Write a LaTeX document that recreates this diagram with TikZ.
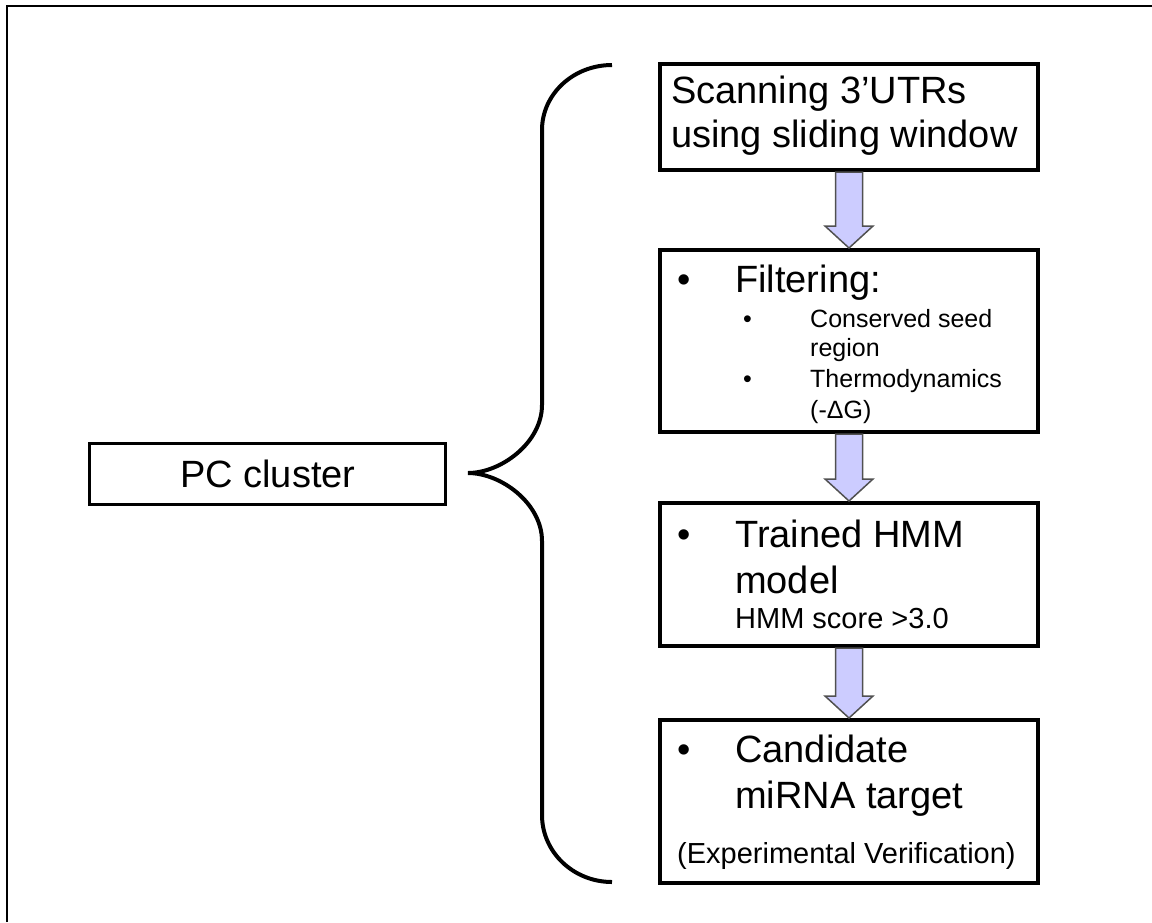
\documentclass[tikz,border=0pt]{standalone}
\usepackage{fontspec}
\setmainfont{Liberation Sans}
\usetikzlibrary{calc}
\definecolor{arrowfill}{HTML}{CCCCFF}
\definecolor{arrowedge}{HTML}{505050}

% block arrow from the bottom of one box to the top of the next
\newcommand\flowarrow[2]{%
  \draw[fatarrow] let \p1=(#1.south), \p2=(#2.north) in
    (\x1-13.5pt,\y1) -- (\x1-13.5pt,\y2+22pt) -- (\x1-24pt,\y2+22pt) -- (\x1,\y2)
    -- (\x1+24pt,\y2+22pt) -- (\x1+13.5pt,\y2+22pt) -- (\x1+13.5pt,\y1) -- cycle;}

\begin{document}
\begin{tikzpicture}[x=1pt,y=-1pt,
  frame/.style={line width=2pt},
  stepbox/.style={draw, line width=4pt, minimum width=378pt, inner sep=0pt},
  pcbox/.style={draw, line width=3pt, inner sep=0pt},
  big/.style={anchor=base west, inner sep=0pt, font=\fontsize{38}{45}\selectfont},
  mid/.style={anchor=base west, inner sep=0pt, font=\fontsize{29}{34}\selectfont},
  small/.style={anchor=base west, inner sep=0pt, font=\fontsize{25}{30}\selectfont},
  fatarrow/.style={draw=arrowedge, fill=arrowfill, line width=1.5pt, line join=miter},
  brace/.style={line width=4pt}]

\useasboundingbox (0,0) rectangle (1152,922);
\draw[frame] (7,922) -- (7,6) -- (1152,6);

% process boxes
\node[stepbox, minimum height=106pt] (scan) at (849,117) {};
\node[stepbox, minimum height=182pt] (filt) at (849,341) {};
\node[stepbox, minimum height=143pt] (hmm)  at (849,574.5) {};
\node[stepbox, minimum height=163pt] (cand) at (849,801.5) {};
\node[pcbox, minimum width=356pt, minimum height=61pt] (pc) at (267,473.5) {};

% arrows between the steps
\flowarrow{scan}{filt}
\flowarrow{filt}{hmm}
\flowarrow{hmm}{cand}

% curly brace joining the cluster to the pipeline
\draw[brace] (612,65) .. controls (573.3,65) and (542,94.1) .. (542,130)
  -- (542,405) .. controls (542,442.6) and (501,473) .. (468,473)
  .. controls (501,473) and (542,503.4) .. (542,541)
  -- (542,815) .. controls (542,852) and (573.3,882) .. (612,882);

% texts
\node[big] (pctext) at (180,487) {PC cluster};

\node[big] (scan1) at (671,103) {Scanning 3’UTRs};
\node[big] (scan2) at (671,147) {using sliding window};

\node[big] (filtdot) at (677,292) {•};
\node[big] (filt1) at (735,292) {Filtering:};
\node[small] (subdot1) at (743,327) {•};
\node[small] (sub1a) at (810,327) {Conserved seed};
\node[small] (sub1b) at (810,356) {region};
\node[small] (subdot2) at (743,387) {•};
\node[small] (sub2a) at (810,387) {Thermodynamics};
\node[small] (sub2b) at (810,418) {(-ΔG)};

\node[big] (hmmdot) at (677,547) {•};
\node[big] (hmm1) at (735,547) {Trained HMM};
\node[big] (hmm2) at (735,593) {model};
\node[mid] (hmm3) at (735,628) {HMM score >3.0};

\node[big] (canddot) at (677,762) {•};
\node[big] (cand1) at (735,762) {Candidate};
\node[big] (cand2) at (735,808) {miRNA target};
\node[mid] (cand3) at (677,863) {(Experimental Verification)};
\end{tikzpicture}
\end{document}
